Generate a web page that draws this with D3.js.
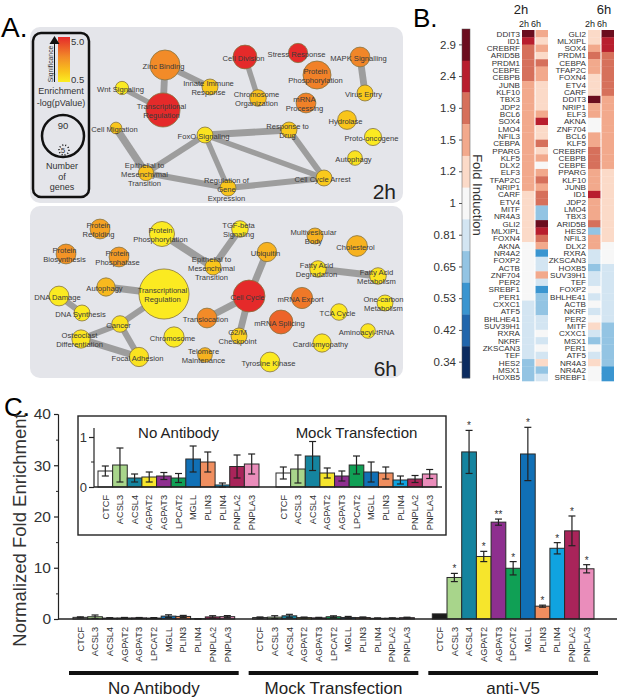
<!DOCTYPE html>
<html>
<head>
<meta charset="utf-8">
<script src="https://cdn.jsdelivr.net/npm/d3@7"></script>
<style>
body { margin: 0; background: #fff; }
svg { display: block; font-family: "Liberation Sans", Arial, sans-serif; }
</style>
</head>
<body>
<svg id="fig" width="617" height="698"></svg>
<script>
// ---------- Panel A : enrichment networks ----------
var names2h = ["Zinc Binding", "Transcriptional\nRegulation", "Wnt Signaling", "Cell Migration",
  "Epithelial to\nMesenchymal\nTransition", "FoxO Signaling", "Innate Immune\nResponse", "Cell Division",
  "Chromosome\nOrganization", "Stress Response", "Protein\nPhosphorylation", "mRNA\nProcessing",
  "MAPK Signalling", "Virus Entry", "Hydrolase", "Proto-oncogene", "Autophagy", "Response to\nDrug",
  "Cell Cycle Arrest", "Regulation of\nGene\nExpression"];
var sig2h = [3.0, 5, 0.6, 1.5, 1.6, 0.8, 1.4, 5, 1.6, 5, 3.2, 3.2, 3.1, 1.4, 1.5, 0.6, 0.8, 1.4, 1.4, 1.5];
var genes2h = [46, 59, 9, 7, 12, 13, 13, 29, 14, 19, 40, 20, 20, 13, 18, 15, 11, 13, 13, 13];
var edges2h = [[0, 1, 7], [2, 1, 5], [0, 6, 6], [7, 8, 5], [12, 13, 7], [3, 4, 8], [4, 5, 6], [4, 19, 6],
  [5, 17, 7], [5, 18, 5], [5, 19, 5], [17, 18, 6], [19, 18, 6]];

var names6h = ["Protein\nRefolding", "Protein\nBiosynthesis", "Protein\nPhosphatase", "Protein\nPhosphorylation",
  "Autophagy", "Transcriptional\nRegulation", "DNA Damage", "DNA Synthesis", "Cancer", "Osteoclast\nDifferentiation",
  "Focal Adhesion", "Chromosome", "Epithelial to\nMesenchymal\nTransition", "TGF-beta\nSignaling", "Ubiquitin",
  "Cell Cycle", "Translocation", "G2/M\nCheckpoint", "mRNA Splicing", "mRNA Export", "Telomere\nMaintenance",
  "Tyrosine Kinase", "Multivesicular\nBody", "Cholesterol", "Fatty Acid\nDegradation", "Fatty Acid\nMetabolism",
  "One-carbon\nMetabolism", "TCA Cycle", "Aminoacyl-tRNA", "Cardiomyopathy"];
var sig6h = [2.4, 2.8, 2.6, 0.6, 1.8, 0.6, 0.6, 0.6, 0.8, 0.7, 0.8, 0.6, 1.5, 0.6, 2.0, 5, 3.0, 1.2, 3.8, 3.4,
  2.0, 0.6, 2.0, 2.0, 0.8, 0.8, 0.6, 0.7, 0.7, 0.7];
var genes6h = [20, 20, 20, 32, 17, 128, 20, 13, 14, 17, 19, 21, 13, 14, 19, 52, 20, 13, 29, 23, 11, 20, 13, 22,
  14, 14, 13, 14, 11, 17];
var edges6h = [[3, 12, 8], [4, 5, 7], [6, 7, 6], [5, 8, 6], [8, 9, 6], [8, 10, 6], [9, 10, 7], [12, 13, 7],
  [14, 15, 7], [15, 16, 7], [15, 17, 7], [24, 25, 7]];

// node layout (pixels in the figure)
var layout2h = [[165, 65], [163, 110], [122, 88], [116, 128], [146, 173], [205, 135], [210, 87], [245, 57],
  [258, 98], [298, 53], [317, 75], [306, 103], [360, 57], [365, 93], [347, 120], [373, 137], [355, 158],
  [289, 130], [324, 178], [228, 188]];
var layout6h = [[100, 229], [66, 254], [119, 257], [162, 234], [106, 287], [164, 294], [59, 296], [82, 313],
  [120, 324], [81, 339], [139, 357], [174, 337], [213, 267], [240, 229], [267, 252], [249, 296], [207, 318],
  [239, 336], [281, 322], [302, 298], [205, 355], [270, 362], [315, 236], [357, 246], [318, 269], [378, 276],
  [385, 303], [339, 312], [368, 331], [322, 343]];

// ---------- Panel B : fold induction heatmaps ----------
var foldTicks = [2.9, 2.4, 1.9, 1.5, 1.2, 1, 0.81, 0.65, 0.53, 0.42, 0.34];
var foldColors = ["#6b0d1e", "#b81e2e", "#d6705b", "#f2a98c", "#fbdac8", "#f7f7f7", "#d3e5f2", "#93c4e3",
  "#3a95d0", "#2166ac", "#0c2c60"];

var hm1Genes = ["DDIT3", "ID1", "CREBRF", "ARID5B", "PRDM1", "CEBPE", "CEBPB", "JUNB", "KLF10", "TBX3", "JDP2",
  "BCL6", "SOX4", "LMO4", "NFIL3", "CEBPA", "PPARG", "KLF5", "DLX2", "ELF3", "TFAP2C", "NRIP1", "CARF", "ETV4",
  "MITF", "NR4A3", "GLI2", "MLXIPL", "FOXN4", "AKNA", "NR4A2", "FOXP2", "ACTB", "ZNF704", "PER2", "SREBF1",
  "PER1", "CXXC1", "ATF5", "BHLHE41", "SUV39H1", "RXRA", "NKRF", "ZKSCAN3", "TEF", "HES2", "MSX1", "HOXB5"];
var hm1Fold2h = [2.9, 2.4, 1.9, 1.9, 1.9, 1.9, 1.9, 1.5, 1.5, 1.5, 1.5, 1.5, 1.5, 1.5, 1.5, 1.5, 1.5, 1.5, 1.5,
  1.5, 1.5, 1.5, 1.2, 1.2, 1.2, 1.2, 1.2, 1.2, 1.2, 1, 1, 1, 1, 1, 1, 1, 1, 0.81, 0.81, 0.81, 0.81, 0.81, 0.81,
  0.81, 0.81, 0.65, 0.65, 0.65];
var hm1Fold6h = [1.5, 1.2, 1.5, 1.2, 1.9, 1.5, 1.5, 1.2, 1.2, 1.2, 1.2, 1.5, 2.4, 1.2, 1.2, 1.9, 1.2, 1.5, 1,
  1.5, 1.9, 1.5, 1.9, 1.9, 0.65, 0.65, 2.9, 2.4, 1.9, 1.5, 0.53, 0.81, 0.81, 1.5, 0.81, 0.53, 0.65, 0.65, 0.65,
  0.81, 0.81, 1, 0.81, 1, 0.81, 1.2, 0.65, 0.81];

var hm2Genes = ["GLI2", "MLXIPL", "SOX4", "PRDM1", "CEBPA", "TFAP2C", "FOXN4", "ETV4", "CARF", "DDIT3", "NRIP1",
  "ELF3", "AKNA", "ZNF704", "BCL6", "KLF5", "CREBRF", "CEBPB", "CEBPE", "PPARG", "KLF10", "JUNB", "ID1", "JDP2",
  "LMO4", "TBX3", "ARID5B", "HES2", "NFIL3", "DLX2", "RXRA", "ZKSCAN3", "HOXB5", "SUV39H1", "TEF", "FOXP2",
  "BHLHE41", "ACTB", "NKRF", "PER2", "MITF", "CXXC1", "MSX1", "PER1", "ATF5", "NR4A3", "NR4A2", "SREBF1"];
var hm2Fold2h = [1.2, 1.2, 1.5, 1.9, 1.5, 1.5, 1.2, 1.2, 1.2, 2.9, 1.5, 1.5, 1, 1, 1.5, 1.5, 1.9, 1.9, 1.9, 1.5,
  1.5, 1.5, 2.4, 1.5, 1.5, 1.5, 1.9, 0.65, 1.5, 1.5, 0.81, 0.81, 0.65, 0.81, 0.81, 1, 0.81, 1, 0.81, 1, 1.2,
  0.81, 0.65, 1, 0.81, 1.2, 1, 1];
var hm2Fold6h = [2.9, 2.4, 2.4, 1.9, 1.9, 1.9, 1.9, 1.9, 1.9, 1.5, 1.5, 1.5, 1.5, 1.5, 1.5, 1.5, 1.5, 1.5, 1.5,
  1.2, 1.2, 1.2, 1.2, 1.2, 1.2, 1.2, 1.2, 1.2, 1.2, 1, 1, 1, 0.81, 0.81, 0.81, 0.81, 0.81, 0.81, 0.81, 0.81,
  0.65, 0.65, 0.65, 0.65, 0.65, 0.65, 0.53, 0.53];

// ---------- Panel C : ChIP enrichment ----------
var genesC = ["CTCF", "ACSL3", "ACSL4", "AGPAT2", "AGPAT3", "LPCAT2", "MGLL", "PLIN3", "PLIN4", "PNPLA2", "PNPLA3"];
var conditions = ["No Antibody", "Mock Transfection", "anti-V5"];
var noAbMean = [0.32, 0.44, 0.18, 0.2, 0.22, 0.18, 0.56, 0.5, 0.04, 0.41, 0.46];
var noAbErr = [0.1, 0.34, 0.08, 0.1, 0.07, 0.09, 0.26, 0.2, 0.04, 0.23, 0.2];
var mockMean = [0.28, 0.36, 0.62, 0.28, 0.22, 0.44, 0.3, 0.28, 0.14, 0.16, 0.26];
var mockErr = [0.12, 0.28, 0.29, 0.1, 0.1, 0.18, 0.2, 0.12, 0.08, 0.07, 0.09];
var v5Mean = [1, 8.1, 32.6, 12.2, 18.9, 9.9, 32.2, 2.5, 13.8, 17.2, 9.8];
var v5Err = [0, 0.8, 4.2, 1.0, 0.6, 1.3, 5.2, 0.2, 1.1, 2.9, 0.8];
var v5Sig = ["", "*", "*", "*", "**", "*", "*", "*", "*", "*", "*"];
var geneColors = ["#ffffff", "#a8d58b", "#15849f", "#f6e52c", "#8e2f8f", "#10a055", "#1170b6", "#ef8e5f",
  "#10a3e0", "#a9245a", "#ea8dbb"];

var svg = d3.select("#fig");
svg.append("rect").attr("width", 617).attr("height", 698).attr("fill", "#fff");

// panel letters
svg.append("text").attr("x", 1).attr("y", 37).attr("font-size", 28).text("A.");
svg.append("text").attr("x", 413).attr("y", 27).attr("font-size", 26).text("B.");
svg.append("text").attr("x", 4).attr("y", 416).attr("font-size", 26).text("C.");

// ================= A =================
var sigColor = d3.scaleLinear().domain([0.5, 1.5, 3, 5])
  .range(["#fbee22", "#f9c51b", "#f28b28", "#e52a2a"]).clamp(true);
var rScale = d3.scaleSqrt().domain([0, 90]).range([0, 21]);
var wScale = d3.scaleLinear().domain([1, 10]).range([2.5, 9]);

function drawNet(g, names, sig, genes, layout, edges) {
  var px = d3.scaleIdentity(), py = d3.scaleIdentity();
  g.selectAll("line.edge").data(edges).enter().append("line")
    .attr("x1", function(d){ return px(layout[d[0]][0]); })
    .attr("y1", function(d){ return py(layout[d[0]][1]); })
    .attr("x2", function(d){ return px(layout[d[1]][0]); })
    .attr("y2", function(d){ return py(layout[d[1]][1]); })
    .attr("stroke", "#9d9d9d")
    .attr("stroke-width", function(d){ return wScale(d[2]); });

  g.selectAll("circle.node").data(names).enter().append("circle")
    .attr("cx", function(d, i){ return px(layout[i][0]); })
    .attr("cy", function(d, i){ return py(layout[i][1]); })
    .attr("r", function(d, i){ return rScale(genes[i]); })
    .attr("fill", function(d, i){ return sigColor(sig[i]); })
    .attr("stroke", "#867340")
    .attr("stroke-width", 0.8);

  names.forEach(function(n, i) {
    var lines = n.split("\n");
    var t = g.append("text")
      .attr("x", px(layout[i][0]) - 1.5)
      .attr("y", py(layout[i][1]) + 1)
      .attr("text-anchor", "middle")
      .attr("font-size", 7.6)
      .attr("fill", "#3a3a3a");
    lines.forEach(function(l, k) {
      t.append("tspan")
        .attr("x", px(layout[i][0]) - 1.5)
        .attr("dy", k == 0 ? (-(lines.length - 1) / 2 * 8.8 + 2.7) : 8.8)
        .text(l);
    });
  });
}

var gA = svg.append("g");
gA.append("rect").attr("x", 30).attr("y", 27).attr("width", 373).attr("height", 176)
  .attr("rx", 10).attr("fill", "#e4e5ea");
gA.append("rect").attr("x", 30).attr("y", 206).attr("width", 373).attr("height", 172)
  .attr("rx", 10).attr("fill", "#e4e5ea");

drawNet(gA.append("g"), names2h, sig2h, genes2h, layout2h, edges2h);
drawNet(gA.append("g"), names6h, sig6h, genes6h, layout6h, edges6h);

gA.append("text").attr("x", 396).attr("y", 199).attr("text-anchor", "end")
  .attr("font-size", 21).attr("fill", "#222").text("2h");
gA.append("text").attr("x", 397).attr("y", 376).attr("text-anchor", "end")
  .attr("font-size", 21).attr("fill", "#222").text("6h");

// legend
var leg = gA.append("g");
leg.append("rect").attr("x", 33).attr("y", 33).attr("width", 56).attr("height", 164)
  .attr("rx", 8).attr("fill", "none").attr("stroke", "#111").attr("stroke-width", 2.5);
var grad = svg.append("defs").append("linearGradient").attr("id", "sigGrad")
  .attr("x1", 0).attr("x2", 0).attr("y1", 1).attr("y2", 0);
[0.5, 1.5, 3, 5].forEach(function(v) {
  grad.append("stop").attr("offset", (v - 0.5) / 4.5).attr("stop-color", sigColor(v));
});
leg.append("rect").attr("x", 58).attr("y", 37).attr("width", 12).attr("height", 45).attr("fill", "url(#sigGrad)");
leg.append("text").attr("x", 71).attr("y", 45).attr("font-size", 9.5).attr("fill", "#333").text("5.0");
leg.append("text").attr("x", 71).attr("y", 83).attr("font-size", 9.5).attr("fill", "#333").text("0.5");
leg.append("line").attr("x1", 54.5).attr("x2", 54.5).attr("y1", 82).attr("y2", 42)
  .attr("stroke", "#111").attr("stroke-width", 1);
leg.append("path").attr("d", "M49.5,44 L59.5,44 L54.5,36 Z").attr("fill", "#111");
leg.append("text").attr("transform", "translate(53,64) rotate(-90)").attr("text-anchor", "middle")
  .attr("font-size", 6.8).attr("fill", "#333").text("Significance");
leg.append("text").attr("x", 61).attr("y", 94).attr("text-anchor", "middle").attr("font-size", 9)
  .attr("fill", "#333").text("Enrichment");
leg.append("text").attr("x", 61).attr("y", 106).attr("text-anchor", "middle").attr("font-size", 9)
  .attr("fill", "#333").text("-log(pValue)");
leg.append("circle").attr("cx", 63).attr("cy", 136).attr("r", rScale(90))
  .attr("fill", "none").attr("stroke", "#111").attr("stroke-width", 2.5);
leg.append("text").attr("x", 63).attr("y", 129).attr("text-anchor", "middle").attr("font-size", 9.5)
  .attr("fill", "#333").text("90");
leg.append("circle").attr("cx", 64).attr("cy", 150).attr("r", rScale(5))
  .attr("fill", "none").attr("stroke", "#111").attr("stroke-width", 1.6).attr("stroke-dasharray", "1,2");
leg.append("text").attr("x", 63).attr("y", 153).attr("text-anchor", "middle").attr("font-size", 8)
  .attr("fill", "#333").text("5");
["Number", "of", "genes"].forEach(function(s, i) {
  leg.append("text").attr("x", 62).attr("y", 169 + i * 10.5).attr("text-anchor", "middle")
    .attr("font-size", 9).attr("fill", "#333").text(s);
});

// ================= B =================
var gB = svg.append("g");
var foldColor = d3.scaleThreshold()
  .domain([0.38, 0.47, 0.59, 0.73, 0.9, 1.1, 1.35, 1.7, 2.15, 2.65])
  .range(foldColors.slice().reverse());

var yBar = d3.scaleBand().domain(foldTicks).range([29, 378]);
gB.selectAll("rect.cb").data(foldTicks).enter().append("rect")
  .attr("x", 462).attr("width", 8)
  .attr("y", function(d){ return yBar(d); })
  .attr("height", yBar.bandwidth() + 0.3)
  .attr("fill", function(d){ return foldColor(d); });
gB.append("rect").attr("x", 462).attr("y", 29).attr("width", 8).attr("height", 349)
  .attr("fill", "none").attr("stroke", "#555").attr("stroke-width", 0.5);
var cbAxis = gB.append("g").attr("transform", "translate(462,0)")
  .call(d3.axisLeft(yBar).tickSize(3).tickPadding(3).tickSizeOuter(0)
    .tickFormat(function(d){ return d; }));
cbAxis.select(".domain").remove();
cbAxis.selectAll("text").attr("font-size", 11.5).attr("fill", "#333")
  .attr("font-family", '"Liberation Sans", Arial, sans-serif');
cbAxis.selectAll("line").attr("stroke", "#555");
gB.append("text").attr("transform", "translate(473,195) rotate(90)").attr("text-anchor", "middle")
  .attr("font-size", 13).attr("fill", "#333").text("Fold Induction");

function drawHeat(genes, v2h, v6h, x0) {
  var y = d3.scaleBand().domain(genes).range([30, 381]);
  var x = d3.scaleBand().domain(["2h", "6h"]).range([x0, x0 + 26]).paddingInner(0.08);
  var g = gB.append("g");
  [["2h", v2h], ["6h", v6h]].forEach(function(col) {
    g.selectAll(null).data(genes).enter().append("rect")
      .attr("x", x(col[0]))
      .attr("width", x.bandwidth())
      .attr("y", function(d){ return y(d); })
      .attr("height", y.bandwidth() + 0.3)
      .attr("fill", function(d, i){ return foldColor(col[1][i]); });
  });
  g.selectAll("text.gene").data(genes).enter().append("text")
    .attr("x", x0 - 2)
    .attr("y", function(d){ return y(d) + y.bandwidth() / 2 + 2.9; })
    .attr("text-anchor", "end")
    .attr("font-size", 8.1)
    .attr("fill", "#333")
    .text(function(d){ return d; });
  g.append("text").attr("x", x0 + 2).attr("y", 27).attr("text-anchor", "middle")
    .attr("font-size", 9).attr("fill", "#222").text("2h");
  g.append("text").attr("x", x0 + 14).attr("y", 27).attr("text-anchor", "middle")
    .attr("font-size", 9).attr("fill", "#222").text("6h");
}
drawHeat(hm1Genes, hm1Fold2h, hm1Fold6h, 522);
drawHeat(hm2Genes, hm2Fold2h, hm2Fold6h, 588);
gB.append("text").attr("x", 521).attr("y", 14).attr("text-anchor", "middle").attr("font-size", 13)
  .attr("fill", "#222").text("2h");
gB.append("text").attr("x", 604).attr("y", 14).attr("text-anchor", "middle").attr("font-size", 13)
  .attr("fill", "#222").text("6h");

// ================= C =================
var gC = svg.append("g");
var means = [noAbMean, mockMean, v5Mean];
var errs = [noAbErr, mockErr, v5Err];

var yMain = d3.scaleLinear().domain([0, 40]).range([619, 414]);
var xGroup = d3.scaleBand().domain(conditions).range([73, 594]).paddingInner(0.1);
var xGene = d3.scaleBand().domain(genesC).range([0, xGroup.bandwidth()]);

function barFill(gi, j) {
  if (j == 0 && gi == 2) return "#1a1a1a";
  return geneColors[j];
}

function drawBars(g, xg, xi, y, nGroups, withStars) {
  for (var gi = 0; gi < nGroups; gi++) {
    var cond = conditions[gi];
    genesC.forEach(function(gene, j) {
      var m = means[gi][j], e = errs[gi][j];
      var cx = xg(cond) + xi(gene) + xi.bandwidth() / 2;
      g.append("rect")
        .attr("x", xg(cond) + xi(gene))
        .attr("width", xi.bandwidth())
        .attr("y", y(m))
        .attr("height", y(0) - y(m))
        .attr("fill", barFill(gi, j))
        .attr("stroke", "#2a2a2a")
        .attr("stroke-width", 1);
      if (e > 0) {
        g.append("line").attr("x1", cx).attr("x2", cx).attr("y1", y(m - e)).attr("y2", y(m + e))
          .attr("stroke", "#222").attr("stroke-width", 1.2);
        [m - e, m + e].forEach(function(v) {
          g.append("line").attr("x1", cx - 3.5).attr("x2", cx + 3.5).attr("y1", y(v)).attr("y2", y(v))
            .attr("stroke", "#222").attr("stroke-width", 1.2);
        });
      }
      if (withStars && gi == 2 && v5Sig[j]) {
        g.append("text").attr("x", cx).attr("y", y(m + e) - 1).attr("text-anchor", "middle")
          .attr("font-size", 10).attr("fill", "#333").text(v5Sig[j]);
      }
    });
  }
}

// main axis
var yAx = gC.append("g").attr("transform", "translate(58,0)")
  .call(d3.axisLeft(yMain).tickValues([0, 10, 20, 30, 40]).tickSize(4).tickPadding(3).tickSizeOuter(0));
yAx.selectAll("text").attr("font-size", 15.5).attr("fill", "#333")
  .attr("font-family", '"Liberation Sans", Arial, sans-serif');
yAx.selectAll("line, path").attr("stroke", "#222").attr("stroke-width", 1.2);
gC.append("g").attr("transform", "translate(58,0)")
  .call(d3.axisLeft(yMain).tickValues([5, 15, 25, 35]).tickSize(2).tickFormat("").tickSizeOuter(0))
  .selectAll("line, path").attr("stroke", "#222");
gC.append("text").attr("transform", "translate(26,530) rotate(-90)").attr("text-anchor", "middle")
  .attr("font-size", 18.5).attr("fill", "#333").text("Normalized Fold Enrichment");

drawBars(gC, xGroup, xGene, yMain, 3, true);
gC.append("line").attr("x1", 58).attr("x2", 617).attr("y1", yMain(0)).attr("y2", yMain(0))
  .attr("stroke", "#222").attr("stroke-width", 1.4);

conditions.forEach(function(cond) {
  genesC.forEach(function(gene) {
    var cx = xGroup(cond) + xGene(gene) + xGene.bandwidth() / 2;
    gC.append("text").attr("transform", "translate(" + (cx + 3.2) + ",627) rotate(-90)")
      .attr("text-anchor", "end").attr("font-size", 9.2).attr("fill", "#333").text(gene);
  });
  gC.append("line").attr("x1", xGroup(cond) - 4).attr("x2", xGroup(cond) + xGroup.bandwidth() + 4)
    .attr("y1", 673).attr("y2", 673).attr("stroke", "#111").attr("stroke-width", 4);
  gC.append("text").attr("x", xGroup(cond) + xGroup.bandwidth() / 2).attr("y", 694)
    .attr("text-anchor", "middle").attr("font-size", 17).attr("fill", "#222").text(cond);
});

// inset
var gIn = gC.append("g");
gIn.append("rect").attr("x", 78).attr("y", 416).attr("width", 368).attr("height", 119)
  .attr("fill", "#fff").attr("stroke", "#222").attr("stroke-width", 1.4);
var yIn = d3.scaleLinear().domain([0, 1]).range([487, 437]);
var xInGroup = d3.scaleBand().domain(conditions.slice(0, 2)).range([98, 437]).paddingInner(0.0955);
var xInGene = d3.scaleBand().domain(genesC).range([0, xInGroup.bandwidth()]);

var inAx = gIn.append("g").attr("transform", "translate(94,0)")
  .call(d3.axisLeft(yIn).tickValues([0, 1]).tickSize(5).tickPadding(2).tickSizeOuter(0).tickFormat(d3.format("d")));
inAx.select(".domain").attr("d", "M0," + yIn(1.18) + "V" + yIn(0));
inAx.selectAll("text").attr("font-size", 13).attr("fill", "#333")
  .attr("font-family", '"Liberation Sans", Arial, sans-serif');
inAx.selectAll("line, path").attr("stroke", "#222").attr("stroke-width", 1.2);
gIn.append("line").attr("x1", 91).attr("x2", 94).attr("y1", yIn(0.5)).attr("y2", yIn(0.5))
  .attr("stroke", "#222");

drawBars(gIn, xInGroup, xInGene, yIn, 2, false);
gIn.append("line").attr("x1", 94).attr("x2", 442).attr("y1", yIn(0)).attr("y2", yIn(0))
  .attr("stroke", "#222").attr("stroke-width", 1.4);

conditions.slice(0, 2).forEach(function(cond) {
  genesC.forEach(function(gene) {
    var cx = xInGroup(cond) + xInGene(gene) + xInGene.bandwidth() / 2;
    gIn.append("text").attr("transform", "translate(" + (cx + 3.2) + ",495) rotate(-90)")
      .attr("text-anchor", "end").attr("font-size", 9.2).attr("fill", "#333").text(gene);
  });
  gIn.append("text").attr("x", xInGroup(cond) + xInGroup.bandwidth() / 2).attr("y", 438)
    .attr("text-anchor", "middle").attr("font-size", 15).attr("fill", "#222").text(cond);
});
</script>
</body>
</html>
